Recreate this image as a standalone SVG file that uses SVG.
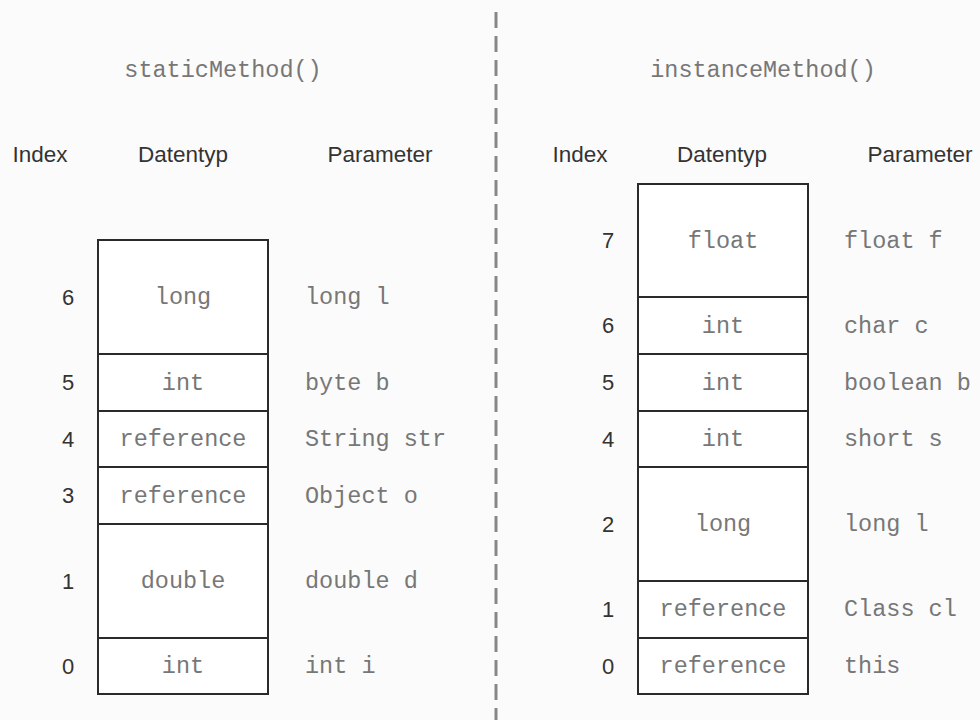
<svg xmlns="http://www.w3.org/2000/svg" width="980" height="720" viewBox="0 0 980 720">
  <style>
    .title { font-family: "Liberation Mono", "DejaVu Sans Mono", monospace; font-size: 23.5px; fill: #777; text-anchor: middle; }
    .head { font-family: "Liberation Sans", Arial, sans-serif; font-size: 22.5px; fill: #333; text-anchor: middle; }
    .idx { font-family: "Liberation Sans", Arial, sans-serif; font-size: 22px; fill: #333; text-anchor: middle; }
    .type { font-family: "Liberation Mono", "DejaVu Sans Mono", monospace; font-size: 23.5px; fill: #777; text-anchor: middle; }
    .param { font-family: "Liberation Mono", "DejaVu Sans Mono", monospace; font-size: 23.5px; fill: #777; }
    .cell { fill: #fff; stroke: #2a2a2a; stroke-width: 2; }
    .divider { stroke: #888; stroke-width: 3; stroke-dasharray: 16 8; fill: none; }
  </style>

  <rect x="0" y="0" width="980" height="720" fill="#fbfbfb"/>

  <!-- separator between the two methods -->
  <g id="connectors">
    <line class="divider" x1="496" y1="12" x2="496" y2="720"/>
  </g>

  <!-- static method frame -->
  <g id="static-header">
    <text class="title" x="223" y="77">staticMethod()</text>
    <text class="head" x="40" y="162">Index</text>
    <text class="head" x="183" y="162">Datentyp</text>
    <text class="head" x="380" y="162">Parameter</text>
  </g>

  <g id="s-slot6">
    <rect class="cell" x="98" y="240" width="170" height="114"/>
    <text class="idx" x="68" y="304.5">6</text>
    <text class="type" x="183" y="304">long</text>
    <text class="param" x="305" y="304">long l</text>
  </g>
  <g id="s-slot5">
    <rect class="cell" x="98" y="354" width="170" height="57"/>
    <text class="idx" x="68" y="390">5</text>
    <text class="type" x="183" y="390">int</text>
    <text class="param" x="305" y="390">byte b</text>
  </g>
  <g id="s-slot4">
    <rect class="cell" x="98" y="411" width="170" height="56"/>
    <text class="idx" x="68" y="446.5">4</text>
    <text class="type" x="183" y="446">reference</text>
    <text class="param" x="305" y="446">String str</text>
  </g>
  <g id="s-slot3">
    <rect class="cell" x="98" y="467" width="170" height="57"/>
    <text class="idx" x="68" y="503">3</text>
    <text class="type" x="183" y="503">reference</text>
    <text class="param" x="305" y="503">Object o</text>
  </g>
  <g id="s-slot1">
    <rect class="cell" x="98" y="524" width="170" height="114"/>
    <text class="idx" x="68" y="588.5">1</text>
    <text class="type" x="183" y="588">double</text>
    <text class="param" x="305" y="588">double d</text>
  </g>
  <g id="s-slot0">
    <rect class="cell" x="98" y="638" width="170" height="56"/>
    <text class="idx" x="68" y="673.5">0</text>
    <text class="type" x="183" y="673">int</text>
    <text class="param" x="305" y="673">int i</text>
  </g>

  <!-- instance method frame -->
  <g id="instance-header">
    <text class="title" x="763" y="77">instanceMethod()</text>
    <text class="head" x="580" y="162">Index</text>
    <text class="head" x="722" y="162">Datentyp</text>
    <text class="head" x="920" y="162">Parameter</text>
  </g>

  <g id="i-slot7">
    <rect class="cell" x="638" y="184" width="170" height="113"/>
    <text class="idx" x="608" y="248">7</text>
    <text class="type" x="723" y="248">float</text>
    <text class="param" x="844" y="248">float f</text>
  </g>
  <g id="i-slot6">
    <rect class="cell" x="638" y="297" width="170" height="57"/>
    <text class="idx" x="608" y="333">6</text>
    <text class="type" x="723" y="333">int</text>
    <text class="param" x="844" y="333">char c</text>
  </g>
  <g id="i-slot5">
    <rect class="cell" x="638" y="354" width="170" height="57"/>
    <text class="idx" x="608" y="390">5</text>
    <text class="type" x="723" y="390">int</text>
    <text class="param" x="844" y="390">boolean b</text>
  </g>
  <g id="i-slot4">
    <rect class="cell" x="638" y="411" width="170" height="56"/>
    <text class="idx" x="608" y="446.5">4</text>
    <text class="type" x="723" y="446">int</text>
    <text class="param" x="844" y="446">short s</text>
  </g>
  <g id="i-slot2">
    <rect class="cell" x="638" y="467" width="170" height="114"/>
    <text class="idx" x="608" y="531.5">2</text>
    <text class="type" x="723" y="531">long</text>
    <text class="param" x="844" y="531">long l</text>
  </g>
  <g id="i-slot1">
    <rect class="cell" x="638" y="581" width="170" height="57"/>
    <text class="idx" x="608" y="616.5">1</text>
    <text class="type" x="723" y="616">reference</text>
    <text class="param" x="844" y="616">Class cl</text>
  </g>
  <g id="i-slot0">
    <rect class="cell" x="638" y="638" width="170" height="56"/>
    <text class="idx" x="608" y="673.5">0</text>
    <text class="type" x="723" y="673">reference</text>
    <text class="param" x="844" y="673">this</text>
  </g>
</svg>
